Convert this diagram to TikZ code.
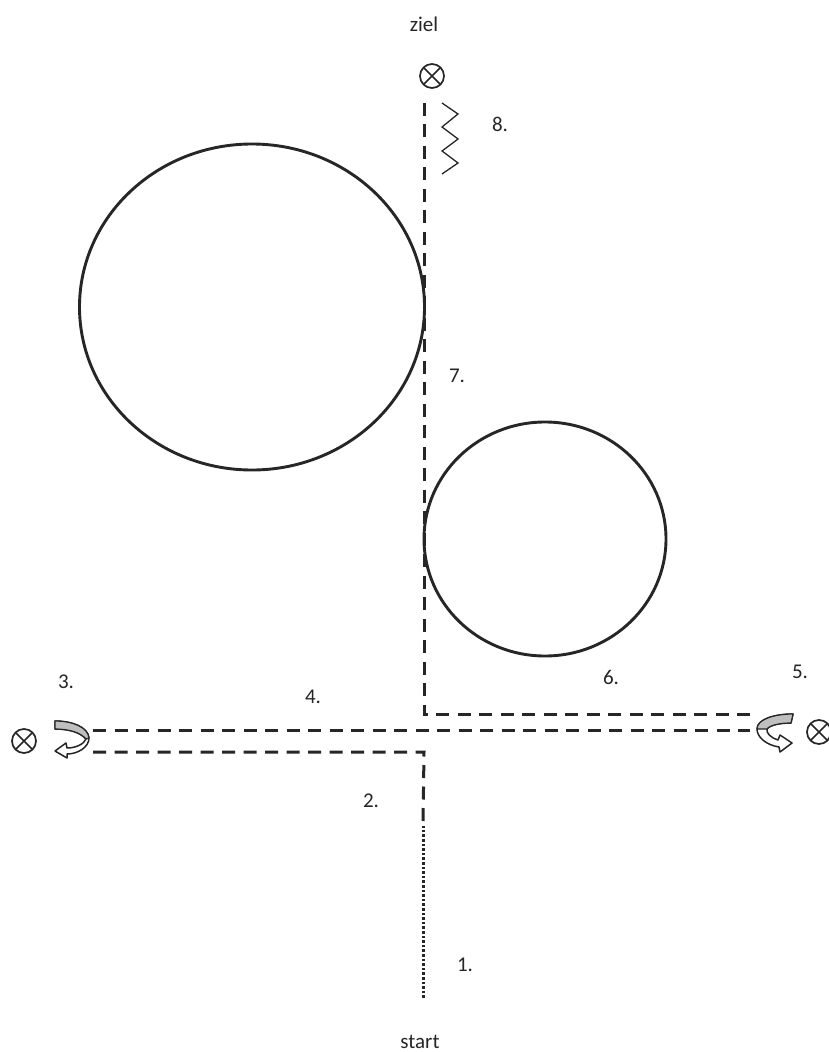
\documentclass[tikz,border=0pt]{standalone}
\usepackage{fontspec}
\setmainfont{Carlito}
\usetikzlibrary{shapes.geometric}
\definecolor{ink}{gray}{0.15}
\tikzset{
  x=1pt,y=-1pt,
  lbl/.style={text=ink,font=\fontsize{21}{23}\selectfont,inner sep=0pt},
  ring/.style={draw=ink,line width=2.9pt,ellipse,inner sep=0pt},
  target/.style={draw=ink,line width=1.7pt,circle,minimum size=24pt,inner sep=0pt,
    path picture={\draw[ink,line width=1.5pt]
      (path picture bounding box.north west)--(path picture bounding box.south east)
      (path picture bounding box.north east)--(path picture bounding box.south west);}},
  route/.style={draw=ink,line width=3pt,dash pattern=on 13pt off 8.5pt},
  dotroute/.style={draw=ink,line width=3pt,dash pattern=on 2.6pt off 2pt},
  turn/.style={draw=ink,line width=1.5pt,fill=white,line join=round},
  band/.style={fill=gray!50,draw=ink,line width=1.2pt,line join=round},
  zig/.style={draw=ink,line width=1.3pt},
}
\begin{document}
\begin{tikzpicture}
\useasboundingbox (0,0) rectangle (829,1052);
\fill[white] (0,0) rectangle (829,1052);
% big circles
\node[ring,minimum width=345pt,minimum height=326pt] (big) at (252,307) {};
\node[ring,minimum width=242pt,minimum height=234pt] (small) at (545,539) {};
% targets
\node[target] (tTop) at (432,76) {};
\node[target] (tLeft) at (24,741) {};
\node[target] (tRight) at (819,732) {};
% route coordinates
\coordinate (startPt) at (423,998);
\coordinate (dotEnd) at (423,826);
\coordinate (cornerA) at (424,752);
\coordinate (leftA) at (93,752);
\coordinate (leftB) at (93,730);
\coordinate (rightB) at (750,730);
\coordinate (rightC) at (750,714);
\coordinate (cornerC) at (424,714);
\coordinate (topEnd) at (424,103);
\draw[dotroute] (startPt) -- (dotEnd);
\draw[route] (leftA) -- (cornerA) -- (dotEnd);
\draw[route] (leftB) -- (rightB);
\draw[route] (rightC) -- (cornerC) -- (topEnd);
% zigzag
\draw[zig] (442,103) -- (458,114) -- (442,127) -- (458,139) -- (442,151) -- (458,163) -- (442,174);
% left turn arrow
\draw[turn] (55,721) .. controls (72,721) and (88,727) .. (89,738)
  .. controls (89,747) and (78,754) .. (67,754) -- (67,758) -- (55,751) -- (66,743) -- (67,748)
  .. controls (76,748) and (84,744) .. (86,739)
  .. controls (80,732) and (68,729) .. (55,729) -- cycle;
\draw[band] (55,721) .. controls (72,721) and (88,727) .. (89,738)
  -- (86,739) .. controls (80,732) and (68,729) .. (55,729) -- cycle;
% right turn arrow
\draw[turn] (793,714) .. controls (775,714) and (757,719) .. (757,729)
  .. controls (757,737) and (766,745) .. (779,747) -- (780,752) -- (792,743) -- (780,735) -- (778,740)
  .. controls (771,738) and (766,733) .. (767,729)
  .. controls (770,725) and (780,723) .. (791,723) -- cycle;
\draw[band] (793,714) .. controls (775,714) and (757,719) .. (757,729)
  -- (767,729) .. controls (770,725) and (780,723) .. (791,723) -- cycle;
% labels
\node[lbl] (zielL) at (424,24) {ziel};
\node[lbl] (startL) at (420,1042) {start};
\node[lbl] (n1) at (465,965) {1.};
\node[lbl] (n2) at (371,801) {2.};
\node[lbl] (n3) at (66,682) {3.};
\node[lbl] (n4) at (313,697) {4.};
\node[lbl] (n5) at (800,672) {5.};
\node[lbl] (n6) at (611,677) {6.};
\node[lbl] (n7) at (457,376) {7.};
\node[lbl] (n8) at (500,124) {8.};
\end{tikzpicture}
\end{document}
